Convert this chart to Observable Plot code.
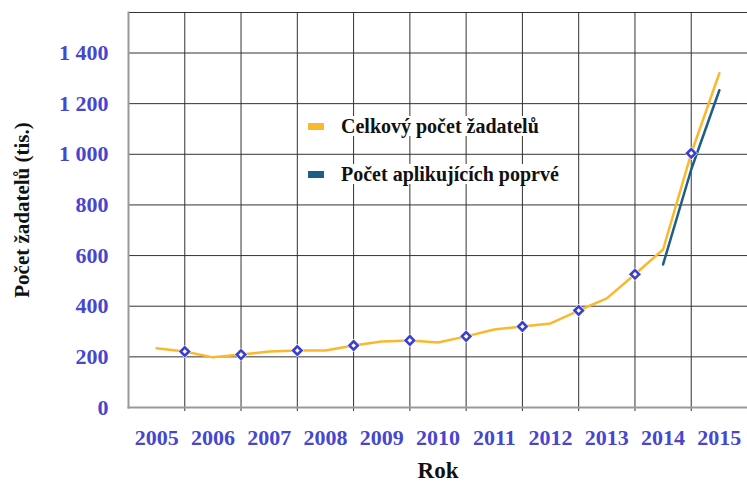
<!DOCTYPE html>
<html>
<head>
<meta charset="utf-8">
<script src="https://cdn.jsdelivr.net/npm/d3@7"></script>
<script src="https://cdn.jsdelivr.net/npm/@observablehq/plot@0.6"></script>
<style>
  body { margin: 0; background: white; }
  #wrap { position: relative; width: 747px; height: 485px; font-family: "Liberation Serif", "Times New Roman", serif; }
  .leg { position: absolute; display: flex; align-items: center; font-weight: bold; font-size: 20px; color: #111; }
  .sw { width: 16px; height: 7px; margin-right: 15px; }
  .lt { background: white; line-height: 20px; padding: 0 2px; }
</style>
</head>
<body>
<div id="wrap">
  <div class="leg" style="left:308px; top:116px;"><div class="sw" style="background:#fbb82e"></div><span class="lt">Celkový počet žadatelů</span></div>
  <div class="leg" style="left:308px; top:164px;"><div class="sw" style="background:#1c5e88"></div><span class="lt">Počet aplikujících poprvé</span></div>
</div>
<script>
// Data (thousands of applicants), half-year resolution
const periods = [2005, 2005.5, 2006, 2006.5, 2007, 2007.5, 2008, 2008.5, 2009, 2009.5, 2010,
                 2010.5, 2011, 2011.5, 2012, 2012.5, 2013, 2013.5, 2014, 2014.5, 2015];
const totalApplicants = [234, 221, 198, 209, 221, 225, 225, 245, 261, 265, 257,
                         281, 308, 320, 332, 383, 431, 526, 624, 1004, 1320];
const firstTimePeriods = [2014, 2014.5, 2015];
const firstTimeApplicants = [565, 940, 1253];
const years = [2005, 2006, 2007, 2008, 2009, 2010, 2011, 2012, 2013, 2014, 2015];
const gridPeriods = [2005.5, 2006.5, 2007.5, 2008.5, 2009.5, 2010.5, 2011.5, 2012.5, 2013.5, 2014.5];
const yTicks = [0, 200, 400, 600, 800, 1000, 1200, 1400];
const seriesNames = ["Celkový počet žadatelů", "Počet aplikujících poprvé"];

const total = periods.map((p, i) => ({period: p, value: totalApplicants[i], series: seriesNames[0]}));
const firstTime = firstTimePeriods.map((p, i) => ({period: p, value: firstTimeApplicants[i], series: seriesNames[1]}));
const markers = total.filter(d => gridPeriods.includes(d.period));

const fmt = d => d >= 1000 ? d3.format(",")(d).replace(",", "\u00a0") : String(d);
const blue = "#4646d0";

const chart = Plot.plot({
  width: 747,
  height: 485,
  marginLeft: 128,
  marginRight: 0,
  marginTop: 12,
  marginBottom: 78,
  style: {fontFamily: "'Liberation Serif', 'Times New Roman', serif", background: "white"},
  x: {domain: [2004.5, 2015.5]},
  y: {domain: [0, 1560]},
  marks: [
    Plot.ruleY(yTicks.filter(d => d > 0), {stroke: "#333", strokeWidth: 1}),
    Plot.ruleX(gridPeriods, {stroke: "#333", strokeWidth: 1, insetBottom: -4}),
    Plot.frame({anchor: "top", stroke: "#333", strokeWidth: 1}),
    Plot.frame({anchor: "left", stroke: "#999", strokeWidth: 2}),
    Plot.frame({anchor: "bottom", stroke: "#999", strokeWidth: 2}),
    Plot.line(total, {x: "period", y: "value", stroke: "#fbb82e", strokeWidth: 2.5}),
    Plot.line(firstTime, {x: "period", y: "value", stroke: "#1c5e88", strokeWidth: 2.5}),
    Plot.dot(markers, {x: "period", y: "value", symbol: "diamond2", r: 6, fill: "white", stroke: "none"}),
    Plot.dot(markers, {x: "period", y: "value", symbol: "diamond2", r: 3.8, fill: "white", stroke: "#3a3fd0", strokeWidth: 2.6}),
    Plot.axisY({ticks: yTicks, tickFormat: fmt, tickSize: 0, tickPadding: 20, fontSize: 22, fontWeight: "bold", fill: blue, label: null}),
    Plot.axisX({ticks: years, tickFormat: d => String(d), tickSize: 0, tickPadding: 22, fontSize: 22, fontWeight: "bold", fill: blue, label: null}),
    Plot.text(["Rok"], {frameAnchor: "bottom", dy: 70, text: d => d, fontSize: 23, fontWeight: "bold", fill: "#111"}),
    Plot.text(["Počet žadatelů (tis.)"], {frameAnchor: "left", textAnchor: "middle", dx: -106, rotate: -90, text: d => d, fontSize: 21, fontWeight: "bold", fill: "#111"})
  ]
});
document.getElementById("wrap").prepend(chart);
chart.style.position = "absolute";
chart.style.left = "0";
chart.style.top = "0";
</script>
</body>
</html>
